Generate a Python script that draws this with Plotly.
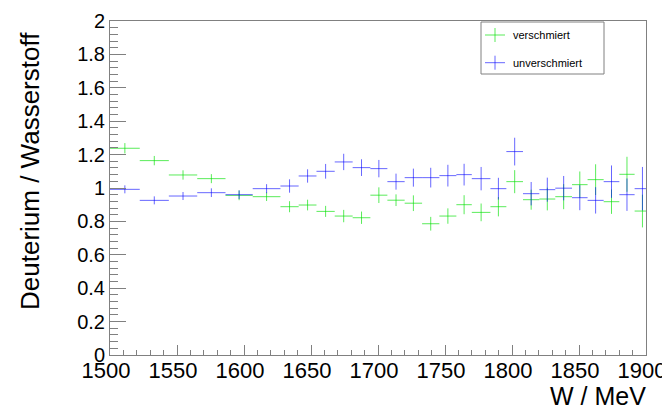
import plotly.graph_objects as go

# ---- data ----
bin_edges = [1500.0, 1522.2, 1543.9, 1565.1, 1586.2, 1606.5, 1627.2, 1640.8, 1654.1,
             1667.7, 1681.1, 1694.3, 1707.0, 1719.9, 1732.9, 1745.8, 1758.5, 1770.0,
             1783.9, 1795.8, 1808.2, 1820.4, 1832.3, 1844.8, 1856.4, 1868.4, 1880.1,
             1891.5, 1903.2]

verschmiert = [1.238, 1.164, 1.078, 1.056, 0.956, 0.948, 0.888, 0.898, 0.860, 0.832,
               0.822, 0.957, 0.927, 0.909, 0.786, 0.832, 0.900, 0.854, 0.888, 1.038,
               0.930, 0.934, 0.948, 1.020, 1.050, 0.918, 1.082, 0.862]
verschmiert_err = [0.031, 0.028, 0.028, 0.027, 0.029, 0.026, 0.033, 0.032, 0.033, 0.037,
                   0.037, 0.047, 0.035, 0.047, 0.041, 0.046, 0.057, 0.053, 0.058, 0.069,
                   0.060, 0.068, 0.075, 0.079, 0.092, 0.073, 0.105, 0.098]

unverschmiert = [0.992, 0.926, 0.952, 0.972, 0.960, 0.996, 1.012, 1.072, 1.100, 1.156,
                 1.122, 1.116, 1.038, 1.062, 1.062, 1.074, 1.080, 1.056, 0.996, 1.218,
                 0.966, 0.990, 0.999, 0.942, 0.926, 1.038, 0.960, 0.996]
unverschmiert_err = [0.024, 0.024, 0.024, 0.026, 0.026, 0.027, 0.040, 0.040, 0.044, 0.049,
                     0.050, 0.052, 0.048, 0.054, 0.059, 0.065, 0.065, 0.070, 0.065, 0.083,
                     0.070, 0.072, 0.073, 0.075, 0.079, 0.097, 0.097, 0.130]

series_names = ["verschmiert", "unverschmiert"]
x_ticks = [1500, 1550, 1600, 1650, 1700, 1750, 1800, 1850, 1900]

centers = [(a + b) / 2 for a, b in zip(bin_edges[:-1], bin_edges[1:])]
halfw = [(b - a) / 2 for a, b in zip(bin_edges[:-1], bin_edges[1:])]

GREEN = "rgba(0,225,0,0.65)"
BLUE = "rgba(0,0,255,0.6)"
AXC = "#808080"
FONT = "Liberation Sans, Arial, Helvetica"

# page is rendered with an 8px body margin -> work in page coordinates and shift
OFF = 8
W, H = 670 - OFF, 412 - OFF
PL, PR, PT, PB = 110, 646, 21, 355   # plot frame in page pixels
L, T = PL - OFF, PT - OFF
R = W - (PR - OFF)
B = H - (PB - OFF)
PW, PH = PR - PL, PB - PT


def px(x):
    return (x - PL) / PW


def py(y):
    return (PB - y) / PH


fig = go.Figure()
for name, vals, errs, col in [(series_names[0], verschmiert, verschmiert_err, GREEN),
                              (series_names[1], unverschmiert, unverschmiert_err, BLUE)]:
    fig.add_trace(go.Scatter(
        x=centers, y=vals, mode="markers", name=name,
        marker=dict(size=2, color="rgba(0,0,0,0)", line=dict(width=0)),
        error_x=dict(type="data", array=halfw, symmetric=True, width=0, thickness=1, color=col),
        error_y=dict(type="data", array=errs, symmetric=True, width=0, thickness=1, color=col),
        showlegend=False, hoverinfo="skip",
    ))

fig.update_layout(
    width=W, height=H,
    margin=dict(l=L, r=R, t=T, b=B, pad=0, autoexpand=False),
    paper_bgcolor="white", plot_bgcolor="white",
    xaxis=dict(range=[1500, 1900], tickvals=x_ticks, ticks="inside", ticklen=10,
               tickangle=0, automargin=False, ticklabelshift=-4, ticklabelstandoff=-4,
               tickcolor=AXC, showline=True, mirror=True, linecolor=AXC, linewidth=1,
               showgrid=False, zeroline=False,
               tickfont=dict(family=FONT, size=22, color="black"),
               minor=dict(ticks="inside", dtick=10, tick0=1500, ticklen=5, tickcolor=AXC,
                          showgrid=False)),
    yaxis=dict(range=[0, 2], dtick=0.2, tick0=0, ticks="inside", ticklen=16,
               automargin=False,
               tickcolor=AXC, showline=True, mirror=True, linecolor=AXC, linewidth=1,
               showgrid=False, zeroline=False,
               tickfont=dict(family=FONT, size=20, color="black"),
               minor=dict(ticks="inside", dtick=0.04, tick0=0, ticklen=8, tickcolor=AXC,
                          showgrid=False)),
)

# axis titles
fig.add_annotation(text="Deuterium / Wasserstoff", xref="paper", yref="paper",
                   x=px(30), y=py(171), textangle=-90, showarrow=False,
                   xanchor="center", yanchor="middle",
                   font=dict(family=FONT, size=26, color="black"))
fig.add_annotation(text="W / MeV", xref="paper", yref="paper",
                   x=px(648), y=py(396), showarrow=False,
                   xanchor="right", yanchor="middle",
                   font=dict(family=FONT, size=25, color="black"))

# legend box
fig.add_shape(type="rect", xref="paper", yref="paper",
              x0=px(481), x1=px(604), y0=py(74), y1=py(22),
              line=dict(color=AXC, width=1), fillcolor="white")
for i, (name, col) in enumerate([(series_names[0], GREEN), (series_names[1], BLUE)]):
    yc = 35 + i * 27.7
    fig.add_shape(type="line", xref="paper", yref="paper",
                  x0=px(485), x1=px(505), y0=py(yc), y1=py(yc), line=dict(color=col, width=1))
    fig.add_shape(type="line", xref="paper", yref="paper",
                  x0=px(495), x1=px(495), y0=py(yc - 7), y1=py(yc + 7), line=dict(color=col, width=1))
    fig.add_annotation(text=name, xref="paper", yref="paper", x=px(511), y=py(yc),
                       showarrow=False, xanchor="left", yanchor="middle",
                       font=dict(family=FONT, size=11, color="black"))

fig.write_html("out.html")
